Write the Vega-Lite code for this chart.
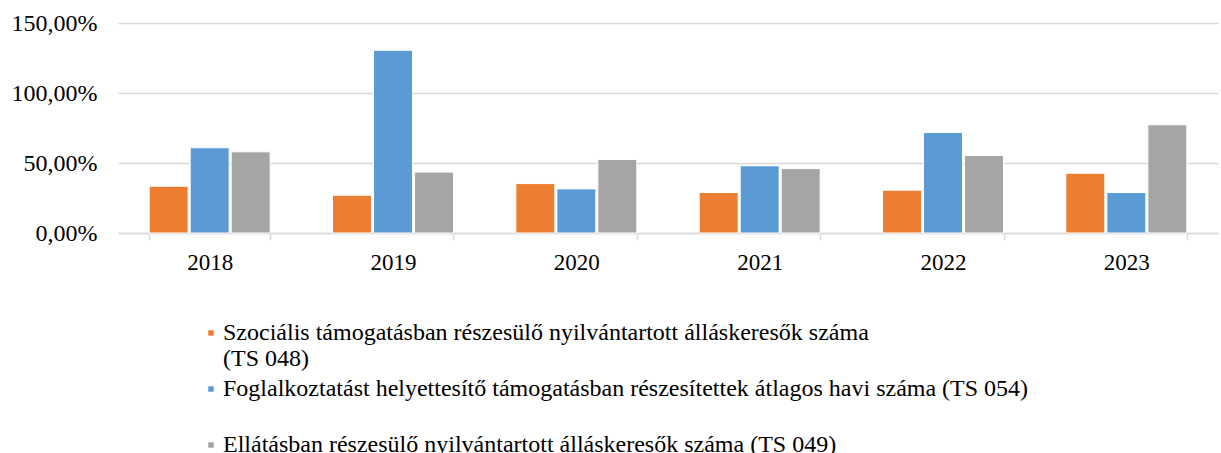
{
  "$schema": "https://vega.github.io/schema/vega-lite/v6.json",
  "width": 1100,
  "height": 210,
  "autosize": {"type": "none"},
  "padding": {"left": 118, "top": 23, "right": 3, "bottom": 220},
  "background": "white",
  "config": {"view": {"stroke": null}, "font": "Liberation Serif"},
  "data": {
    "values": [
      {"year": "2018", "series": "Szociális támogatásban részesülő nyilvántartott álláskeresők száma (TS 048)", "value": 33.4},
      {"year": "2018", "series": "Foglalkoztatást helyettesítő támogatásban részesítettek átlagos havi száma (TS 054)", "value": 60.9},
      {"year": "2018", "series": "Ellátásban részesülő nyilvántartott álláskeresők száma (TS 049)", "value": 58.0},
      {"year": "2019", "series": "Szociális támogatásban részesülő nyilvántartott álláskeresők száma (TS 048)", "value": 27.0},
      {"year": "2019", "series": "Foglalkoztatást helyettesítő támogatásban részesítettek átlagos havi száma (TS 054)", "value": 130.5},
      {"year": "2019", "series": "Ellátásban részesülő nyilvántartott álláskeresők száma (TS 049)", "value": 43.5},
      {"year": "2020", "series": "Szociális támogatásban részesülő nyilvántartott álláskeresők száma (TS 048)", "value": 35.3},
      {"year": "2020", "series": "Foglalkoztatást helyettesítő támogatásban részesítettek átlagos havi száma (TS 054)", "value": 31.5},
      {"year": "2020", "series": "Ellátásban részesülő nyilvántartott álláskeresők száma (TS 049)", "value": 52.5},
      {"year": "2021", "series": "Szociális támogatásban részesülő nyilvántartott álláskeresők száma (TS 048)", "value": 28.9},
      {"year": "2021", "series": "Foglalkoztatást helyettesítő támogatásban részesítettek átlagos havi száma (TS 054)", "value": 48.0},
      {"year": "2021", "series": "Ellátásban részesülő nyilvántartott álláskeresők száma (TS 049)", "value": 46.0},
      {"year": "2022", "series": "Szociális támogatásban részesülő nyilvántartott álláskeresők száma (TS 048)", "value": 30.6},
      {"year": "2022", "series": "Foglalkoztatást helyettesítő támogatásban részesítettek átlagos havi száma (TS 054)", "value": 71.8},
      {"year": "2022", "series": "Ellátásban részesülő nyilvántartott álláskeresők száma (TS 049)", "value": 55.3},
      {"year": "2023", "series": "Szociális támogatásban részesülő nyilvántartott álláskeresők száma (TS 048)", "value": 42.7},
      {"year": "2023", "series": "Foglalkoztatást helyettesítő támogatásban részesítettek átlagos havi száma (TS 054)", "value": 28.9},
      {"year": "2023", "series": "Ellátásban részesülő nyilvántartott álláskeresők száma (TS 049)", "value": 77.3}
    ]
  },
  "mark": {"type": "bar", "stroke": "white", "strokeWidth": 1},
  "encoding": {
    "x": {
      "field": "year",
      "type": "nominal",
      "scale": {"paddingInner": 0.34, "paddingOuter": 0.17},
      "axis": {
        "title": null,
        "labelAngle": 0,
        "labelFont": "Liberation Serif",
        "labelFontSize": 23,
        "labelColor": "black",
        "domainColor": "#d9d9d9",
        "domainWidth": 1.5,
        "tickColor": "#d9d9d9",
        "tickWidth": 1.5,
        "tickSize": 7,
        "tickBand": "extent",
        "labelPadding": 11,
        "grid": false
      }
    },
    "xOffset": {
      "field": "series",
      "type": "nominal",
      "sort": [
        "Szociális támogatásban részesülő nyilvántartott álláskeresők száma (TS 048)",
        "Foglalkoztatást helyettesítő támogatásban részesítettek átlagos havi száma (TS 054)",
        "Ellátásban részesülő nyilvántartott álláskeresők száma (TS 049)"
      ],
      "scale": {"paddingInner": 0.05}
    },
    "y": {
      "field": "value",
      "type": "quantitative",
      "scale": {"domain": [0, 150]},
      "axis": {
        "title": null,
        "values": [0, 50, 100, 150],
        "labelExpr": "replace(format(datum.value,'.2f'),'.',',')+'%'",
        "ticks": false,
        "domain": false,
        "gridColor": "#d9d9d9",
        "gridWidth": 1.5,
        "labelPadding": 21,
        "labelFont": "Liberation Serif",
        "labelFontSize": 24,
        "labelColor": "black"
      }
    },
    "color": {
      "field": "series",
      "type": "nominal",
      "scale": {
        "domain": [
          "Szociális támogatásban részesülő nyilvántartott álláskeresők száma (TS 048)",
          "Foglalkoztatást helyettesítő támogatásban részesítettek átlagos havi száma (TS 054)",
          "Ellátásban részesülő nyilvántartott álláskeresők száma (TS 049)"
        ],
        "range": ["#ED7D31", "#5B9BD5", "#A5A5A5"]
      },
      "legend": {
        "orient": "none",
        "legendX": 81,
        "legendY": 298,
        "direction": "vertical",
        "title": null,
        "symbolType": "square",
        "symbolSize": 30,
        "symbolStrokeWidth": 0,
        "symbolOffset": 0,
        "labelOffset": 0,
        "labelFont": "Liberation Serif",
        "labelFontSize": 24,
        "labelColor": "black",
        "labelLimit": 1100,
        "labelBaseline": "middle",
        "rowPadding": 6,
        "padding": 0,
        "labelExpr": "indexof(datum.label,'(TS 048)')>0 ? [replace(datum.label,' (TS 048)',''), '(TS 048)'] : indexof(datum.label,'(TS 054)')>0 ? [datum.label, ''] : datum.label"
      }
    }
  }
}
